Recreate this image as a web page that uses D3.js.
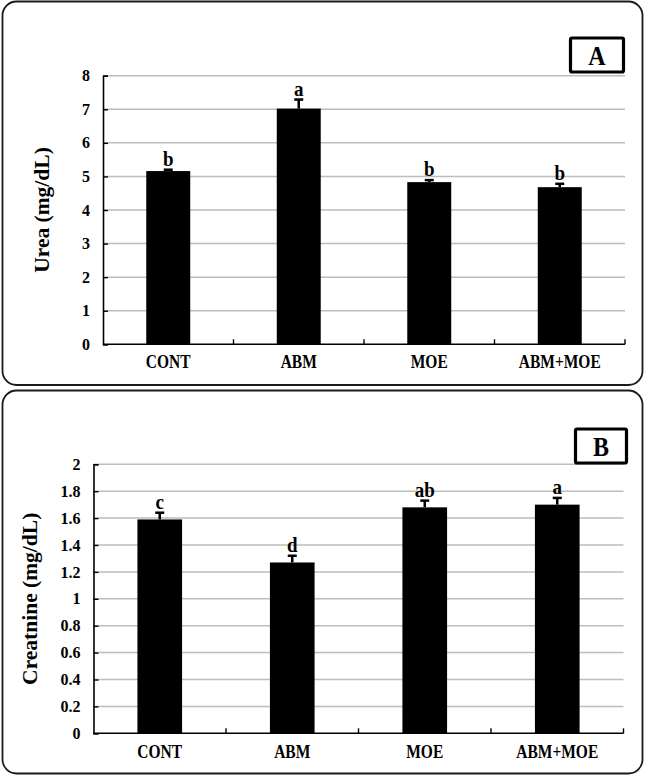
<!DOCTYPE html>
<html>
<head>
<meta charset="utf-8">
<script src="https://cdn.jsdelivr.net/npm/d3@7"></script>
<style>
  html, body { margin: 0; padding: 0; background: #fff; }
  svg { display: block; }
  text { font-family: "Liberation Serif", "Times New Roman", serif; font-weight: bold; fill: #000; }
</style>
</head>
<body>
<svg id="chart" width="645" height="776"></svg>
<script>
// ---------- data ----------
const categories = ["CONT", "ABM", "MOE", "ABM+MOE"];

const ureaValues  = [5.16, 7.02, 4.83, 4.68];
const ureaErrors  = [0.04, 0.27, 0.06, 0.10];
const ureaLetters = ["b", "a", "b", "b"];
const ureaTicks   = [0, 1, 2, 3, 4, 5, 6, 7, 8];

const creatValues  = [1.59, 1.27, 1.68, 1.70];
const creatErrors  = [0.05, 0.05, 0.05, 0.05];
const creatLetters = ["c", "d", "ab", "a"];
const creatTicks   = [0, 0.2, 0.4, 0.6, 0.8, 1, 1.2, 1.4, 1.6, 1.8, 2];

const svg = d3.select("#chart");

function drawPanel(cfg) {
  const g = svg.append("g");

  // panel frame
  g.append("rect")
    .attr("x", cfg.frame[0]).attr("y", cfg.frame[1])
    .attr("width", cfg.frame[2]).attr("height", cfg.frame[3])
    .attr("rx", 14).attr("ry", 14)
    .attr("fill", "#fff").attr("stroke", "#1a1a1a").attr("stroke-width", 1.8);

  const x = d3.scaleBand().domain(categories).range([cfg.left, cfg.right]).padding(0);
  const y = d3.scaleLinear().domain([0, d3.max(cfg.ticks)]).range([cfg.bottom, cfg.top]);
  const barW = x.bandwidth() * 0.337;

  // gridlines
  g.append("g").selectAll("line").data(cfg.ticks.filter(t => t > 0)).join("line")
    .attr("x1", cfg.left).attr("x2", cfg.right)
    .attr("y1", d => y(d)).attr("y2", d => y(d))
    .attr("stroke", "#bdbdbd").attr("stroke-width", 1.5);

  // y axis
  const yAxis = d3.axisLeft(y).tickValues(cfg.ticks).tickSize(-5).tickPadding(13)
    .tickFormat(d => String(+d.toFixed(1)));
  const ya = g.append("g").attr("transform", `translate(${cfg.left},0)`).call(yAxis);
  ya.select(".domain").attr("stroke", "#000").attr("stroke-width", 1.6);
  ya.selectAll(".tick line").attr("stroke", "#000").attr("stroke-width", 1.4);
  ya.selectAll(".tick text")
    .style("font-family", '"Liberation Serif", "Times New Roman", serif')
    .style("font-weight", "bold").style("font-size", "16px").attr("fill", "#000");

  // bars
  g.append("g").selectAll("rect").data(cfg.values).join("rect")
    .attr("x", (d, i) => x(categories[i]) + x.bandwidth() / 2 - barW / 2)
    .attr("y", d => y(d))
    .attr("width", barW)
    .attr("height", d => y(0) - y(d))
    .attr("fill", "#000");

  // error bars (upper half)
  const eb = g.append("g").attr("stroke", "#000").attr("stroke-width", 2.5);
  cfg.values.forEach((v, i) => {
    const cx = x(categories[i]) + x.bandwidth() / 2;
    eb.append("line").attr("x1", cx).attr("x2", cx).attr("y1", y(v)).attr("y2", y(v + cfg.errors[i]));
    eb.append("line").attr("x1", cx - 4.5).attr("x2", cx + 4.5)
      .attr("y1", y(v + cfg.errors[i])).attr("y2", y(v + cfg.errors[i]));
  });

  // significance letters
  g.append("g").selectAll("text").data(cfg.letters).join("text")
    .attr("transform", (d, i) => {
      const cx = x(categories[i]) + x.bandwidth() / 2;
      const cy = y(cfg.values[i] + cfg.errors[i]) - 4;
      return `translate(${cx},${cy}) scale(1,1.12)`;
    })
    .attr("text-anchor", "middle").style("font-size", "19px")
    .text(d => d);

  // x axis line
  g.append("line")
    .attr("x1", cfg.left).attr("x2", cfg.right)
    .attr("y1", y(0)).attr("y2", y(0))
    .attr("stroke", "#000").attr("stroke-width", 1.6);
  // category separator ticks (inward)
  g.append("g").selectAll("line").data(categories).join("line")
    .attr("x1", d => x(d) + x.step()).attr("x2", d => x(d) + x.step())
    .attr("y1", y(0)).attr("y2", y(0) - 5)
    .attr("stroke", "#000").attr("stroke-width", 1.4);

  // category labels
  g.append("g").selectAll("text").data(categories).join("text")
    .attr("transform", d => `translate(${x(d) + x.bandwidth() / 2},${cfg.labelY}) scale(1,1.2)`)
    .attr("text-anchor", "middle").style("font-size", "15.5px")
    .text(d => d);

  // y title
  g.append("text")
    .attr("transform", `translate(${cfg.titleX},${(cfg.top + cfg.bottom) / 2}) rotate(-90)`)
    .attr("text-anchor", "middle").attr("dy", "0.35em")
    .style("font-size", "21.5px")
    .text(cfg.title);

  // panel letter box
  g.append("rect")
    .attr("x", cfg.box[0]).attr("y", cfg.box[1]).attr("width", cfg.box[2]).attr("height", cfg.box[3])
    .attr("fill", "#fff").attr("stroke", "#000").attr("stroke-width", 3.2).attr("rx", 1.5);
  g.append("text")
    .attr("transform", `translate(${cfg.box[0] + cfg.box[2] / 2},${cfg.box[1] + cfg.box[3] - 7}) scale(1,1.12)`)
    .attr("text-anchor", "middle").style("font-size", "24px")
    .text(cfg.panel);
}

drawPanel({
  frame: [2.5, 1.5, 640, 383.5],
  left: 103, right: 625, top: 75.7, bottom: 344.3,
  ticks: ureaTicks, values: ureaValues, errors: ureaErrors, letters: ureaLetters,
  title: "Urea (mg/dL)", titleX: 41, labelY: 368,
  box: [570.5, 38, 53, 34], panel: "A"
});

drawPanel({
  frame: [2.5, 390.5, 640, 383],
  left: 93.5, right: 623.5, top: 464.3, bottom: 733.3,
  ticks: creatTicks, values: creatValues, errors: creatErrors, letters: creatLetters,
  title: "Creatnine (mg/dL)", titleX: 29, labelY: 758,
  box: [575.5, 429, 51, 34], panel: "B"
});
</script>
</body>
</html>
